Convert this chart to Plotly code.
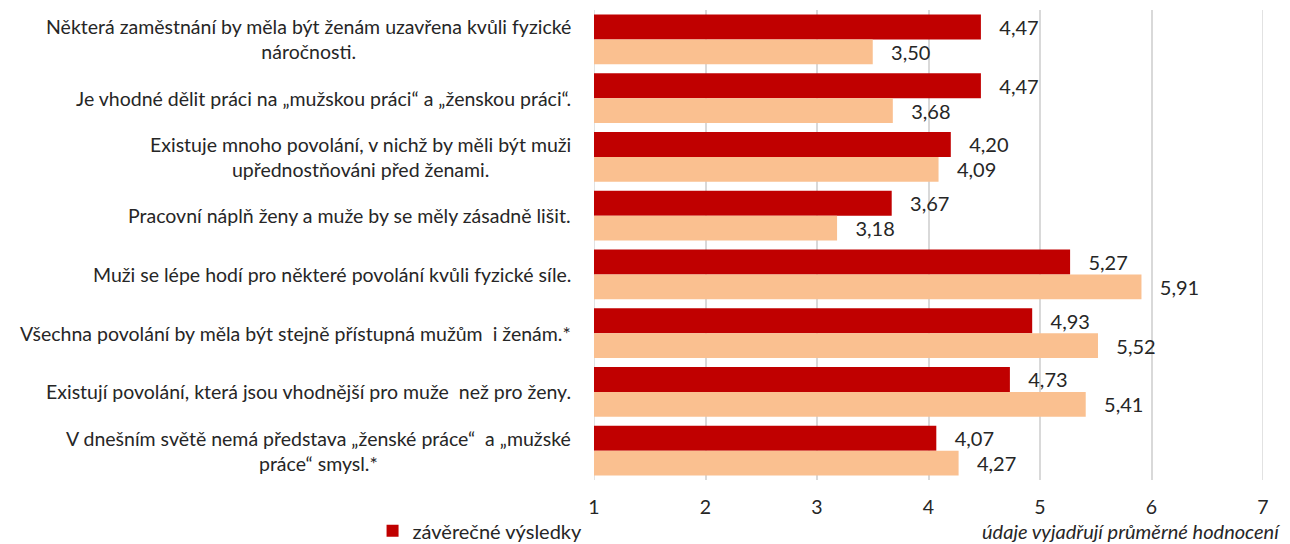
import plotly.graph_objects as go

categories = [
    "Některá zaměstnání by měla být ženám uzavřena kvůli fyzické<br>náročnosti.",
    "Je vhodné dělit práci na „mužskou práci“ a „ženskou práci“.",
    "Existuje mnoho povolání, v nichž by měli být muži<br>upřednostňováni před ženami.",
    "Pracovní náplň ženy a muže by se měly zásadně lišit.",
    "Muži se lépe hodí pro některé povolání kvůli fyzické síle.",
    "Všechna povolání by měla být stejně přístupná mužům  i ženám.*",
    "Existují povolání, která jsou vhodnější pro muže  než pro ženy.",
    "V dnešním světě nemá představa „ženské práce“  a „mužské<br>práce“ smysl.*",
]
final_results = [4.47, 4.47, 4.20, 3.67, 5.27, 4.93, 4.73, 4.07]
other_results = [3.50, 3.68, 4.09, 3.18, 5.91, 5.52, 5.41, 4.27]
x_ticks = [1, 2, 3, 4, 5, 6, 7]

FONT = "Lato"
ids = list(range(len(categories)))

fig = go.Figure()
fig.add_trace(go.Bar(
    y=ids, x=final_results, orientation="h", name="závěrečné výsledky",
    marker=dict(color="#C00000", line=dict(width=0)),
    texttemplate="   %{x:.2f}", textposition="outside", cliponaxis=False,
    textfont=dict(family=FONT, size=20, color="#262626"),
))
fig.add_trace(go.Bar(
    y=ids, x=other_results, orientation="h", name="průběžné výsledky",
    marker=dict(color="#FAC090", line=dict(width=0)),
    texttemplate="   %{x:.2f}", textposition="outside", cliponaxis=False,
    textfont=dict(family=FONT, size=20, color="#262626"),
    showlegend=False,
))

for i, c in enumerate(categories):
    fig.add_annotation(
        x=-0.031, xref="paper", y=i, yref="y", text=c, showarrow=False,
        xanchor="right", align="center",
        font=dict(family=FONT, size=19.5, color="#262626"),
    )

fig.add_annotation(
    x=1.029, xref="paper", y=-0.108, yref="paper", yanchor="middle",
    text="<i>údaje vyjadřují průměrné hodnocení</i>", showarrow=False,
    xanchor="right", font=dict(family=FONT, size=20, color="#262626"),
)

fig.update_layout(
    width=1290, height=544,
    margin=dict(l=586, r=35, t=2, b=72, autoexpand=False),
    paper_bgcolor="white", plot_bgcolor="white",
    barmode="group", bargap=0.15, bargroupgap=0,
    separators=", ",
    font=dict(family=FONT, color="#262626"),
    showlegend=True,
    legend=dict(orientation="h", x=-0.331, xanchor="left", y=-0.108, yanchor="middle",
                font=dict(family=FONT, size=20, color="#262626"),
                bgcolor="rgba(0,0,0,0)", itemwidth=30),
    xaxis=dict(range=[1, 7], tickvals=x_ticks, showgrid=True, gridcolor="#D9D9D9",
               gridwidth=1.5, zeroline=False, showline=False,
               tickfont=dict(family=FONT, size=19.5, color="#262626"), ticks="",
               ticklen=0, ticklabelstandoff=13),
    yaxis=dict(autorange="reversed", showticklabels=False, showgrid=False,
               zeroline=False, showline=False, ticks=""),
)
for xv in (1, 7):
    fig.add_shape(type="line", xref="x", yref="paper", x0=xv, x1=xv, y0=0, y1=1,
                  line=dict(color="#D9D9D9", width=1.5), layer="below")

fig.write_html("out.html")
